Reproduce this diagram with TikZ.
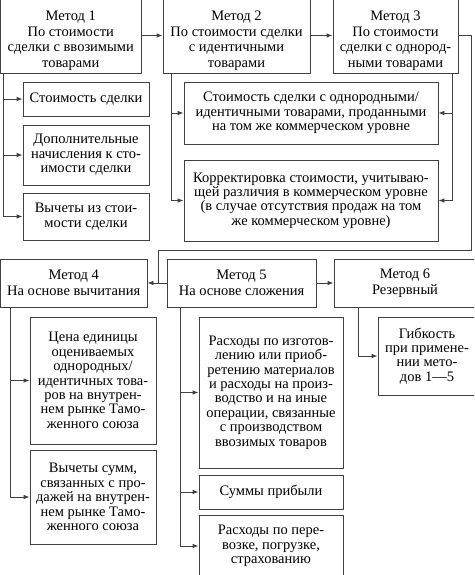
\documentclass[tikz,border=0pt]{standalone}
\usepackage{fontspec}
\setmainfont{Liberation Serif}
\usetikzlibrary{arrows.meta}

\begin{document}
\begin{tikzpicture}[x=1pt,y=-1pt,>={Latex[length=6pt,width=4.5pt]},
        meth/.style={draw=black!75,line width=0.8pt,rectangle,align=center,inner sep=2pt,font=\fontsize{14.5}{15.8}\selectfont},
        item/.style={draw=black!75,line width=0.8pt,rectangle,align=center,inner sep=2pt,font=\fontsize{14.5}{14.4}\selectfont},
        link/.style={draw=black!75,line width=0.8pt}]
        \useasboundingbox (0,0) rectangle (474,575);
        \clip (0,0) rectangle (474,575);
        % Methods
        \node[meth,minimum width=140.5pt,minimum height=75pt] (m1) at (70.75,35.5) {\rule{0pt}{20pt}Метод 1\\По стоимости\\сделки с ввозимыми\\товарами};
        \node[meth,minimum width=147pt,minimum height=75pt] (m2) at (236.5,35.5) {\rule{0pt}{20pt}Метод 2\\По стоимости сделки\\с идентичными\\товарами};
        \node[meth,minimum width=125pt,minimum height=75pt] (m3) at (395.5,35.5) {\rule{0pt}{20pt}Метод 3\\По стоимости\\сделки с однород-\\ными товарами};
        \node[meth,minimum width=146.5pt,minimum height=48pt] (m4) at (73.75,283) {Метод 4\\На основе вычитания};
        \node[meth,minimum width=149pt,minimum height=48pt] (m5) at (241.5,283) {Метод 5\\На основе сложения};
        \node[meth,minimum width=142pt,minimum height=48pt] (m6) at (405,283) {Метод 6\\Резервный};
        \coordinate (j) at (158,283);
        % Details
        \node[item,minimum width=126pt,minimum height=34pt] (c1) at (86,99) {Стоимость сделки};
        \node[item,minimum width=126pt,minimum height=60pt] (a1) at (86,155) {Дополнительные\\начисления к сто-\\имости сделки};
        \node[item,minimum width=126pt,minimum height=47pt] (d1) at (86,216.5) {Вычеты из стои-\\мости сделки};
        \node[item,minimum width=254pt,minimum height=62pt] (c2) at (311,113) {Стоимость сделки с однородными/\\идентичными товарами, проданными\\на том же коммерческом уровне};
        \node[item,minimum width=254pt,minimum height=81pt] (k2) at (311,200.5) {Корректировка стоимости, учитываю-\\щей различия в коммерческом уровне\\(в случае отсутствия продаж на том\\же коммерческом уровне)};
        \node[item,minimum width=126pt,minimum height=127pt] (p4) at (93,380.5) {Цена единицы\\оцениваемых\\однородных/\\идентичных това-\\ров на внутрен-\\нем рынке Тамо-\\женного союза};
        \node[item,minimum width=126pt,minimum height=94pt] (d4) at (93,497) {Вычеты сумм,\\связанных с про-\\дажей на внутрен-\\нем рынке Тамо-\\женного союза};
        \node[item,minimum width=144pt,minimum height=151pt] (r5) at (271,392.5) {Расходы по изготов-\\лению или приоб-\\ретению материалов\\и расходы на произ-\\водство и на иные\\операции, связанные\\с производством\\ввозимых товаров};
        \node[item,minimum width=144pt,minimum height=34pt] (s5) at (271,492) {Суммы прибыли};
        \node[item,minimum width=144pt,minimum height=62pt] (t5) at (271,546) {Расходы по пере-\\возке, погрузке,\\страхованию};
        \node[item,minimum width=98pt,minimum height=78pt] (g6) at (427,356) {Гибкость\\при примене-\\нии мето-\\дов 1—5};
        % Arrows
        \draw[link,->] (m1) -- (m2);
        \draw[link,->] (m2) -- (m3);
        \draw[link,->] (m3.east) -- (471,35.5) -- (471,250) -- (158,250) -- (j) -- (m4);
        \draw[link] (m5) -- (j);
        \draw[link,->] (m5) -- (m6);
        \draw[link,->] ([xshift=3.5pt]m1.south west) |- (c1);
        \draw[link,->] ([xshift=3.5pt]m1.south west) |- (a1);
        \draw[link,->] ([xshift=3.5pt]m1.south west) |- (d1);
        \draw[link,->] ([xshift=9pt]m2.south west) |- (c2);
        \draw[link,->] ([xshift=9pt]m2.south west) |- (k2);
        \draw[link,->] ([xshift=-6pt]m3.south east) |- (c2);
        \draw[link,->] ([xshift=-6pt]m3.south east) |- (k2);
        \draw[link,->] ([xshift=10.5pt]m4.south west) |- (p4);
        \draw[link,->] ([xshift=10.5pt]m4.south west) |- (d4);
        \draw[link,->] ([xshift=14pt]m5.south west) |- (r5);
        \draw[link,->] ([xshift=14pt]m5.south west) |- (s5);
        \draw[link,->] ([xshift=14pt]m5.south west) |- (t5);
        \draw[link,->] ([xshift=25pt]m6.south west) |- (g6);
\end{tikzpicture}
\end{document}
